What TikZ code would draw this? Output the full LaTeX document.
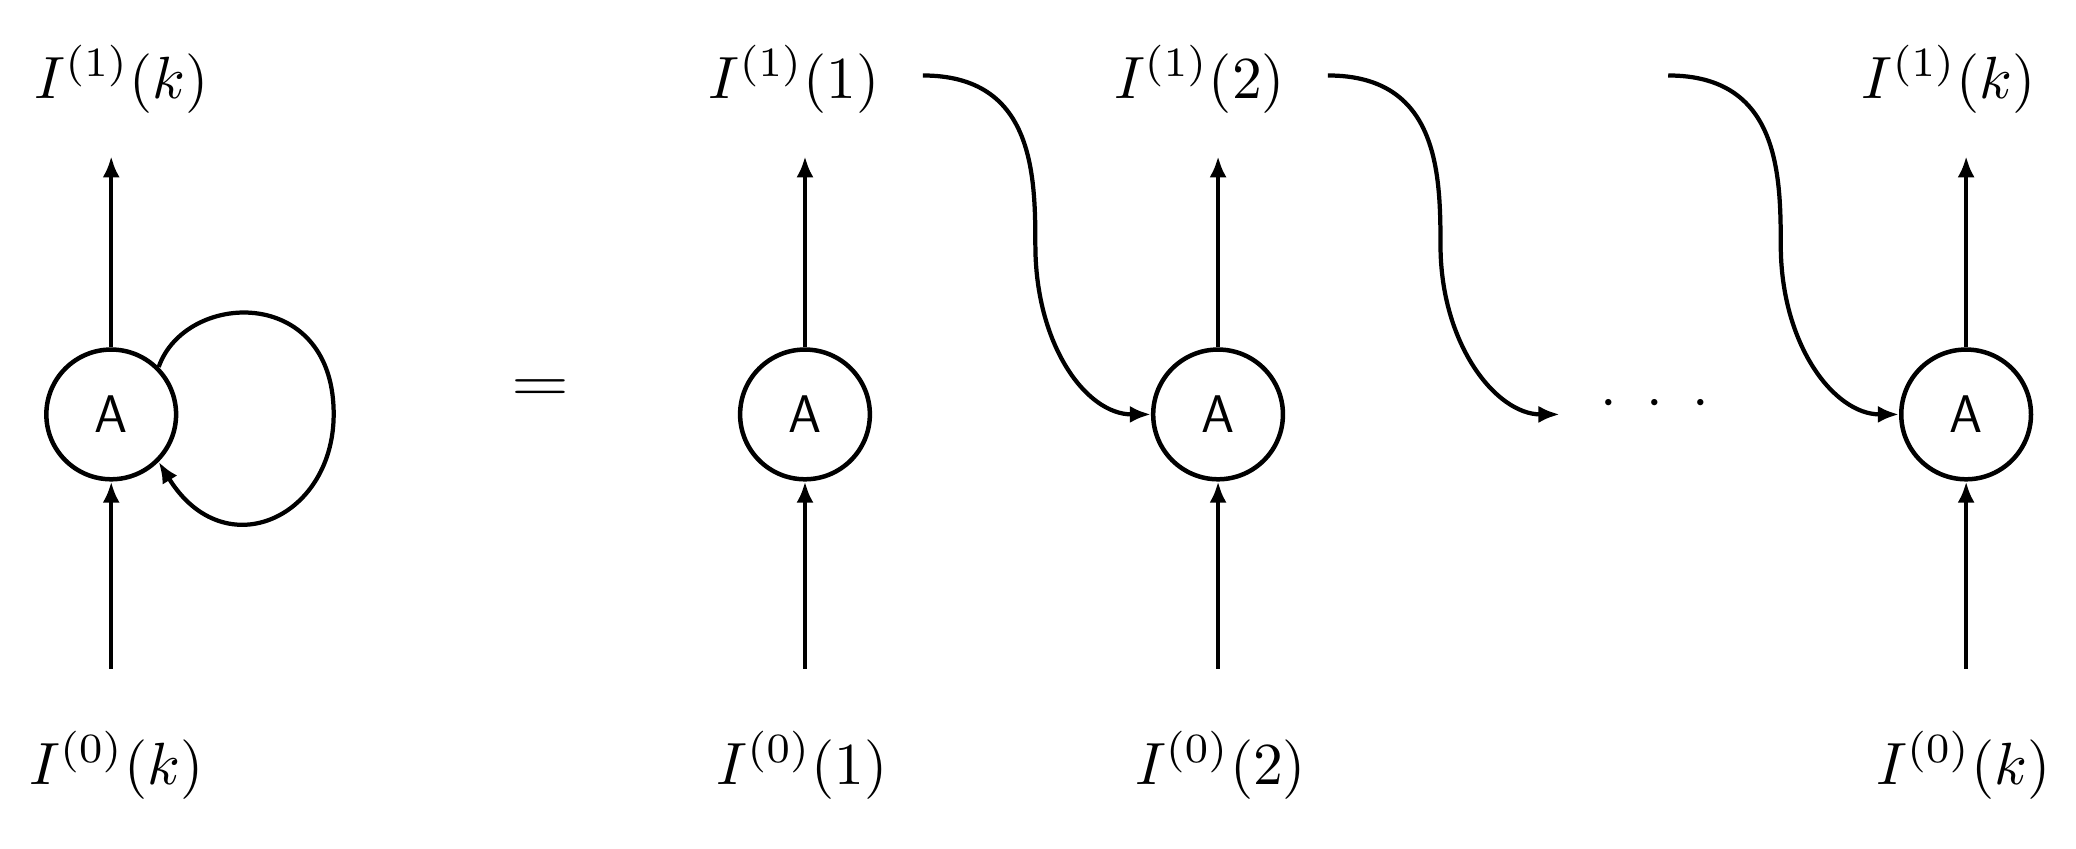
\documentclass[tikz,border=0pt]{standalone}
\usetikzlibrary{arrows.meta}
\begin{document}
\begin{tikzpicture}[x=1pt,y=-1pt,
  cell/.style={circle,draw,line width=3.4pt,minimum size=98pt,inner sep=0pt,font=\fontsize{40}{46}\selectfont\sffamily},
  lbl/.style={scale=4.5,transform shape},
  arr/.style={line width=3.2pt,-{Latex[length=16pt,width=13pt]}}]
\useasboundingbox (0,0) rectangle (1568,641);
% left
\node[cell] (a0) at (84,313) {A};
\node[lbl] (t0) at (92,60) {$I^{(1)}(k)$};
\node[lbl] (b0) at (88,578) {$I^{(0)}(k)$};
\coordinate (s0) at (84,505);
\draw[arr] (a0.north) -- (84,118) coordinate (e0);
\draw[arr] (s0) -- (a0.south);
\draw[arr] (a0.45) .. controls (140,220) and (250,215) .. (252,310) .. controls (254,390) and (170,430) .. (a0.-45);
% equals
\node[lbl,xscale=1.25] (eq) at (408,295) {$=$};
% cells
\foreach \n/\x in {1/608,2/920,3/1485}{
  \node[cell] (a\n) at (\x,313) {A};
  \coordinate (s\n) at (\x,505);
  \coordinate (e\n) at (\x,118);
  \draw[arr] (a\n.north) -- (e\n);
  \draw[arr] (s\n) -- (a\n.south);
}
\node[lbl] (t1) at (600,60) {$I^{(1)}(1)$};
\node[lbl] (t2) at (906,60) {$I^{(1)}(2)$};
\node[lbl] (t3) at (1472,60) {$I^{(1)}(k)$};
\node[lbl] (b1) at (606,578) {$I^{(0)}(1)$};
\node[lbl] (b2) at (922,578) {$I^{(0)}(2)$};
\node[lbl] (b3) at (1483,578) {$I^{(0)}(k)$};
\node[lbl] (dots) at (1250,305) {$\cdot\;\cdot\;\cdot$};
\coordinate (w1) at (697,57);
\coordinate (w2) at (1003,57);
\coordinate (w3) at (1260,57);
\coordinate (d3) at (1178,313);
\draw[arr] (w1) .. controls (780,57) and (782,130) .. (782,185) .. controls (782,260) and (820,313) .. (a2.west);
\draw[arr] (w2) .. controls (1086,57) and (1088,130) .. (1088,185) .. controls (1088,260) and (1130,313) .. (d3);
\draw[arr] (w3) .. controls (1343,57) and (1345,130) .. (1345,185) .. controls (1345,260) and (1385,313) .. (a3.west);
\end{tikzpicture}
\end{document}
